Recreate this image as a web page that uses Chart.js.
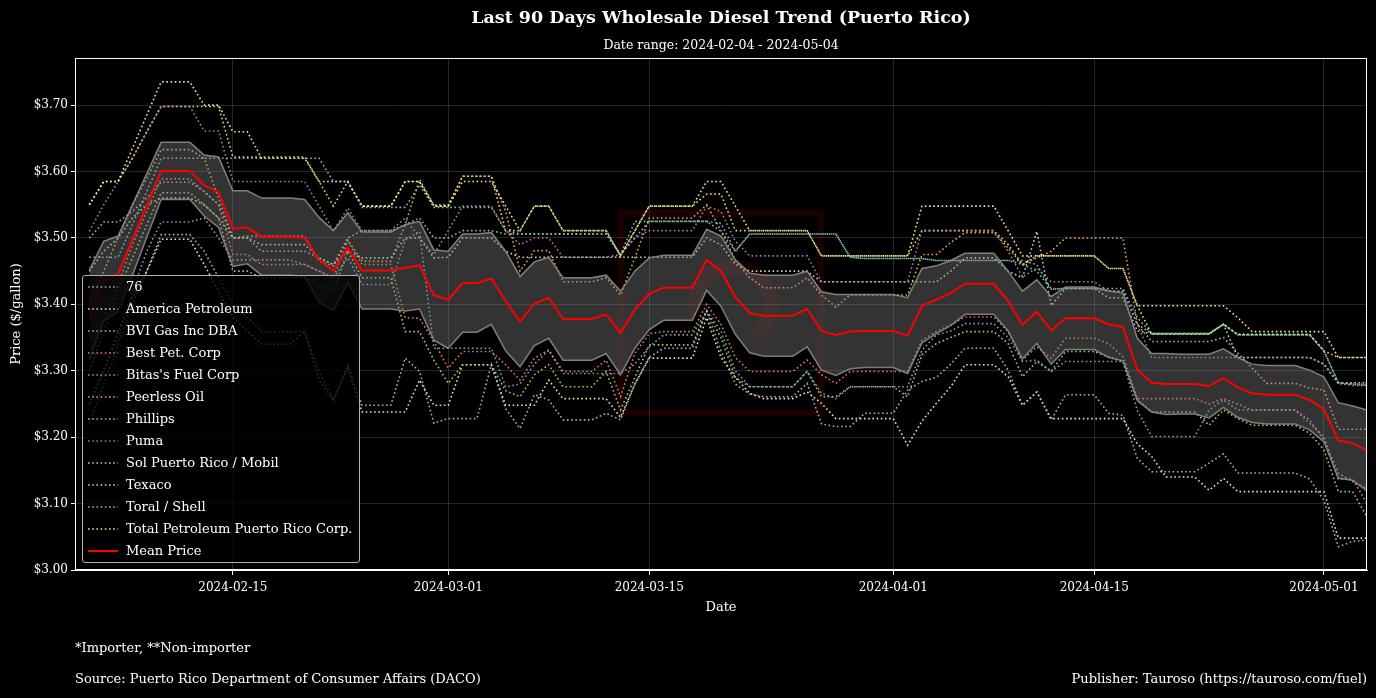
<!DOCTYPE html>
<html>
<head>
<meta charset="utf-8">
<script src="https://cdn.jsdelivr.net/npm/chart.js@4.4.1/dist/chart.umd.min.js"></script>
<style>
  html, body { margin: 0; padding: 0; background: #000; }
  #wrap { position: relative; width: 1376px; height: 698px; font-family: "DejaVu Serif", serif; color: #fff; overflow: hidden; }
  canvas { position: absolute; left: 0; top: 0; }
  .note { position: absolute; font-size: 13px; white-space: nowrap; }
  #legend { position: absolute; left: 82px; top: 275px; width: 278px; height: 288px; box-sizing: border-box;
            background: rgba(0,0,0,0.8); border: 1px solid #b0b0b0; border-radius: 3px; }
  .item { position: absolute; left: 0; height: 22px; font-size: 13px; line-height: 22px; width: 100%; }
  .item svg { position: absolute; left: 5px; top: 10px; }
  .item span { position: absolute; left: 43px; white-space: nowrap; }
</style>
</head>
<body>
<div id="wrap">
  <canvas id="chart" width="1376" height="698"></canvas>
  <div id="legend"></div>
  <div class="note" style="left:75px; top:640px;">*Importer, **Non-importer</div>
  <div class="note" style="left:75px; top:671px;">Source: Puerto Rico Department of Consumer Affairs (DACO)</div>
  <div class="note" style="right:9px; top:671px;">Publisher: Tauroso (https://tauroso.com/fuel)</div>
</div>
<script>
// axis range and labelled dates
const axisStart = '2024-02-04';
const axisEnd = '2024-05-04';
const firstDate = '2024-02-05';
const tickDates = ['2024-02-15', '2024-03-01', '2024-03-15', '2024-04-01', '2024-04-15', '2024-05-01'];
const yTicks = [3.00, 3.10, 3.20, 3.30, 3.40, 3.50, 3.60, 3.70];

const seriesNames = ['76', 'America Petroleum', 'BVI Gas Inc DBA', 'Best Pet. Corp', "Bitas's Fuel Corp",
  'Peerless Oil', 'Phillips', 'Puma', 'Sol Puerto Rico / Mobil', 'Texaco', 'Toral / Shell',
  'Total Petroleum Puerto Rico Corp.'];
const seriesColors = ['#8dd3c7', '#feffb3', '#bfbbd9', '#fa8174', '#81b1d2', '#fdb462', '#b3de69',
  '#bc82bd', '#ccebc4', '#ffed6f', '#8dd3c7', '#feffb3'];

// daily prices, 2024-02-05 .. 2024-05-04
const s76 = [
  3.471, 3.471, 3.471, 3.52, 3.57, 3.62, 3.62, 3.62, 3.62, 3.62,
  3.62, 3.62, 3.62, 3.62, 3.62, 3.62, 3.62, 3.585, 3.585, 3.546,
  3.546, 3.546, 3.546, 3.58, 3.546, 3.546, 3.546, 3.546, 3.546, 3.511,
  3.506, 3.506, 3.506, 3.506, 3.506, 3.506, 3.506, 3.475, 3.525, 3.525,
  3.525, 3.525, 3.525, 3.525, 3.522, 3.48, 3.506, 3.506, 3.506, 3.506,
  3.506, 3.506, 3.506, 3.471, 3.469, 3.469, 3.469, 3.469, 3.469, 3.466,
  3.466, 3.466, 3.466, 3.466, 3.466, 3.466, 3.46, 3.423, 3.424, 3.424,
  3.424, 3.424, 3.424, 3.38, 3.356, 3.356, 3.356, 3.356, 3.356, 3.37,
  3.354, 3.354, 3.354, 3.354, 3.354, 3.354, 3.33, 3.282, 3.28, 3.278];
const sAmerica = [
  3.55, 3.585, 3.585, 3.635, 3.685, 3.735, 3.735, 3.735, 3.70, 3.70,
  3.66, 3.66, 3.62, 3.62, 3.62, 3.62, 3.585, 3.585, 3.585, 3.548,
  3.548, 3.548, 3.585, 3.585, 3.548, 3.548, 3.585, 3.585, 3.585, 3.548,
  3.511, 3.548, 3.548, 3.511, 3.511, 3.511, 3.511, 3.473, 3.511, 3.548,
  3.548, 3.548, 3.548, 3.585, 3.585, 3.548, 3.511, 3.511, 3.511, 3.511,
  3.511, 3.473, 3.473, 3.473, 3.473, 3.473, 3.473, 3.473, 3.548, 3.548,
  3.548, 3.548, 3.548, 3.548, 3.511, 3.473, 3.473, 3.473, 3.473, 3.473,
  3.473, 3.454, 3.454, 3.398, 3.398, 3.398, 3.398, 3.398, 3.398, 3.398,
  3.38, 3.359, 3.359, 3.359, 3.359, 3.359, 3.359, 3.32, 3.32, 3.32];
const sBvi = [
  3.22, 3.28, 3.34, 3.40, 3.45, 3.505, 3.505, 3.505, 3.48, 3.44,
  3.40, 3.38, 3.359, 3.359, 3.359, 3.359, 3.30, 3.256, 3.309, 3.248,
  3.248, 3.248, 3.319, 3.299, 3.221, 3.228, 3.228, 3.228, 3.309, 3.243,
  3.213, 3.264, 3.256, 3.226, 3.226, 3.226, 3.236, 3.226, 3.28, 3.32,
  3.334, 3.334, 3.334, 3.39, 3.33, 3.28, 3.265, 3.261, 3.261, 3.261,
  3.281, 3.22, 3.216, 3.216, 3.236, 3.236, 3.236, 3.271, 3.284, 3.29,
  3.31, 3.334, 3.334, 3.334, 3.301, 3.248, 3.268, 3.226, 3.264, 3.264,
  3.264, 3.236, 3.233, 3.168, 3.148, 3.148, 3.148, 3.148, 3.161, 3.175,
  3.146, 3.146, 3.146, 3.146, 3.146, 3.137, 3.105, 3.035, 3.043, 3.045];
const sBest = [
  3.32, 3.38, 3.43, 3.49, 3.54, 3.589, 3.589, 3.589, 3.57, 3.55,
  3.475, 3.475, 3.46, 3.46, 3.46, 3.46, 3.45, 3.44, 3.495, 3.46,
  3.46, 3.46, 3.38, 3.379, 3.344, 3.304, 3.329, 3.329, 3.329, 3.309,
  3.286, 3.319, 3.331, 3.299, 3.299, 3.299, 3.316, 3.261, 3.326, 3.356,
  3.359, 3.359, 3.359, 3.40, 3.37, 3.32, 3.299, 3.299, 3.299, 3.299,
  3.316, 3.294, 3.281, 3.299, 3.299, 3.299, 3.299, 3.299, 3.346, 3.359,
  3.369, 3.381, 3.381, 3.381, 3.359, 3.316, 3.336, 3.319, 3.349, 3.349,
  3.349, 3.341, 3.321, 3.258, 3.258, 3.258, 3.258, 3.258, 3.25, 3.258,
  3.25, 3.241, 3.241, 3.241, 3.241, 3.221, 3.201, 3.137, 3.137, 3.10];
const sBitas = [
  3.25, 3.30, 3.35, 3.42, 3.48, 3.524, 3.524, 3.524, 3.53, 3.50,
  3.467, 3.467, 3.467, 3.467, 3.467, 3.46, 3.45, 3.44, 3.47, 3.43,
  3.43, 3.43, 3.497, 3.51, 3.334, 3.334, 3.334, 3.334, 3.334, 3.276,
  3.28, 3.31, 3.331, 3.296, 3.296, 3.296, 3.296, 3.296, 3.31, 3.336,
  3.354, 3.354, 3.354, 3.39, 3.36, 3.30, 3.276, 3.276, 3.276, 3.276,
  3.299, 3.266, 3.258, 3.276, 3.276, 3.276, 3.276, 3.276, 3.331, 3.354,
  3.36, 3.371, 3.371, 3.371, 3.35, 3.314, 3.316, 3.299, 3.314, 3.314,
  3.314, 3.314, 3.314, 3.24, 3.201, 3.201, 3.201, 3.201, 3.241, 3.256,
  3.241, 3.241, 3.241, 3.241, 3.241, 3.226, 3.196, 3.146, 3.133, 3.123];
const sPeerless = [
  3.40, 3.45, 3.50, 3.55, 3.59, 3.633, 3.633, 3.633, 3.62, 3.56,
  3.50, 3.503, 3.503, 3.503, 3.503, 3.503, 3.465, 3.458, 3.497, 3.465,
  3.465, 3.465, 3.52, 3.588, 3.55, 3.55, 3.593, 3.593, 3.593, 3.54,
  3.45, 3.481, 3.481, 3.434, 3.434, 3.434, 3.44, 3.414, 3.47, 3.53,
  3.53, 3.53, 3.53, 3.55, 3.511, 3.466, 3.44, 3.425, 3.425, 3.425,
  3.44, 3.414, 3.396, 3.414, 3.414, 3.414, 3.414, 3.414, 3.475, 3.475,
  3.493, 3.508, 3.508, 3.508, 3.485, 3.46, 3.47, 3.48, 3.50, 3.50,
  3.50, 3.50, 3.50, 3.37, 3.344, 3.344, 3.344, 3.344, 3.344, 3.35,
  3.327, 3.304, 3.281, 3.281, 3.281, 3.274, 3.271, 3.212, 3.212, 3.212];
const sPhillips = [
  3.30, 3.36, 3.42, 3.47, 3.52, 3.568, 3.568, 3.568, 3.55, 3.53,
  3.45, 3.45, 3.44, 3.44, 3.44, 3.44, 3.43, 3.42, 3.48, 3.44,
  3.44, 3.44, 3.359, 3.359, 3.316, 3.281, 3.309, 3.309, 3.309, 3.27,
  3.261, 3.294, 3.309, 3.276, 3.276, 3.276, 3.299, 3.241, 3.29, 3.339,
  3.339, 3.339, 3.339, 3.39, 3.35, 3.29, 3.276, 3.276, 3.276, 3.276,
  3.299, 3.261, 3.261, 3.276, 3.276, 3.276, 3.276, 3.261, 3.324, 3.341,
  3.35, 3.359, 3.359, 3.359, 3.341, 3.291, 3.314, 3.299, 3.329, 3.329,
  3.329, 3.321, 3.314, 3.256, 3.238, 3.238, 3.238, 3.238, 3.218, 3.241,
  3.228, 3.218, 3.218, 3.218, 3.218, 3.206, 3.181, 3.118, 3.118, 3.08];
const sPuma = [
  3.51, 3.55, 3.585, 3.62, 3.66, 3.698, 3.698, 3.698, 3.661, 3.661,
  3.585, 3.585, 3.585, 3.585, 3.585, 3.585, 3.548, 3.511, 3.545, 3.511,
  3.511, 3.511, 3.53, 3.50, 3.475, 3.511, 3.548, 3.548, 3.548, 3.511,
  3.49, 3.50, 3.50, 3.471, 3.471, 3.471, 3.471, 3.475, 3.50, 3.511,
  3.511, 3.511, 3.511, 3.548, 3.54, 3.495, 3.473, 3.473, 3.473, 3.473,
  3.473, 3.434, 3.434, 3.434, 3.434, 3.434, 3.434, 3.434, 3.511, 3.511,
  3.511, 3.511, 3.511, 3.511, 3.48, 3.441, 3.455, 3.434, 3.434, 3.434,
  3.434, 3.42, 3.42, 3.37, 3.32, 3.32, 3.32, 3.32, 3.32, 3.32,
  3.32, 3.32, 3.32, 3.32, 3.32, 3.32, 3.31, 3.28, 3.28, 3.28];
const sSol = [
  3.45, 3.48, 3.50, 3.53, 3.55, 3.56, 3.56, 3.56, 3.55, 3.53,
  3.50, 3.50, 3.49, 3.49, 3.49, 3.49, 3.47, 3.46, 3.48, 3.47,
  3.47, 3.47, 3.50, 3.50, 3.47, 3.471, 3.50, 3.50, 3.50, 3.48,
  3.471, 3.471, 3.471, 3.471, 3.471, 3.471, 3.471, 3.471, 3.471, 3.471,
  3.471, 3.471, 3.471, 3.50, 3.49, 3.46, 3.45, 3.45, 3.45, 3.45,
  3.45, 3.434, 3.434, 3.434, 3.434, 3.434, 3.434, 3.434, 3.434, 3.434,
  3.45, 3.47, 3.47, 3.47, 3.45, 3.44, 3.51, 3.398, 3.424, 3.424,
  3.424, 3.41, 3.41, 3.36, 3.356, 3.356, 3.356, 3.356, 3.356, 3.37,
  3.32, 3.32, 3.32, 3.32, 3.32, 3.32, 3.31, 3.282, 3.282, 3.282];
const sTexaco = [
  3.55, 3.585, 3.585, 3.62, 3.66, 3.698, 3.698, 3.698, 3.698, 3.698,
  3.622, 3.622, 3.622, 3.622, 3.622, 3.622, 3.585, 3.548, 3.585, 3.548,
  3.548, 3.548, 3.585, 3.585, 3.548, 3.548, 3.593, 3.593, 3.593, 3.511,
  3.511, 3.548, 3.548, 3.511, 3.511, 3.511, 3.511, 3.473, 3.511, 3.548,
  3.548, 3.548, 3.548, 3.566, 3.566, 3.511, 3.511, 3.511, 3.511, 3.511,
  3.511, 3.473, 3.473, 3.473, 3.473, 3.473, 3.473, 3.473, 3.511, 3.511,
  3.511, 3.511, 3.511, 3.511, 3.49, 3.46, 3.473, 3.473, 3.473, 3.473,
  3.473, 3.454, 3.454, 3.398, 3.355, 3.355, 3.355, 3.355, 3.355, 3.37,
  3.355, 3.355, 3.355, 3.355, 3.355, 3.355, 3.33, 3.32, 3.32, 3.32];
const sToral = [
  3.50, 3.524, 3.524, 3.54, 3.56, 3.584, 3.584, 3.584, 3.57, 3.55,
  3.50, 3.50, 3.48, 3.48, 3.48, 3.48, 3.47, 3.46, 3.50, 3.511,
  3.511, 3.511, 3.52, 3.53, 3.50, 3.50, 3.511, 3.511, 3.511, 3.506,
  3.506, 3.506, 3.506, 3.506, 3.506, 3.506, 3.506, 3.475, 3.50, 3.525,
  3.525, 3.525, 3.525, 3.525, 3.51, 3.48, 3.506, 3.506, 3.506, 3.506,
  3.506, 3.506, 3.506, 3.471, 3.469, 3.469, 3.469, 3.469, 3.469, 3.466,
  3.466, 3.466, 3.466, 3.466, 3.466, 3.46, 3.45, 3.423, 3.424, 3.424,
  3.424, 3.42, 3.42, 3.37, 3.356, 3.356, 3.356, 3.356, 3.356, 3.37,
  3.354, 3.354, 3.354, 3.354, 3.354, 3.354, 3.33, 3.282, 3.278, 3.278];
const sTotal = [
  3.25, 3.30, 3.36, 3.41, 3.45, 3.498, 3.498, 3.498, 3.46, 3.42,
  3.38, 3.36, 3.34, 3.34, 3.34, 3.359, 3.286, 3.256, 3.305, 3.238,
  3.238, 3.238, 3.238, 3.286, 3.248, 3.248, 3.309, 3.309, 3.309, 3.248,
  3.248, 3.248, 3.286, 3.258, 3.258, 3.258, 3.258, 3.23, 3.28, 3.319,
  3.319, 3.319, 3.319, 3.38, 3.32, 3.29, 3.266, 3.258, 3.258, 3.258,
  3.268, 3.251, 3.228, 3.228, 3.228, 3.228, 3.228, 3.188, 3.224, 3.251,
  3.276, 3.309, 3.309, 3.309, 3.291, 3.248, 3.268, 3.228, 3.228, 3.228,
  3.228, 3.228, 3.228, 3.19, 3.171, 3.14, 3.14, 3.14, 3.12, 3.138,
  3.118, 3.118, 3.118, 3.118, 3.118, 3.118, 3.118, 3.048, 3.048, 3.048];

const meanPrice = [
  3.384, 3.435, 3.446, 3.497, 3.549, 3.601, 3.601, 3.601, 3.579, 3.569,
  3.514, 3.516, 3.502, 3.502, 3.502, 3.500, 3.467, 3.451, 3.485, 3.451,
  3.451, 3.451, 3.455, 3.459, 3.414, 3.407, 3.432, 3.432, 3.439, 3.405,
  3.374, 3.401, 3.410, 3.378, 3.378, 3.378, 3.385, 3.357, 3.392, 3.416,
  3.425, 3.425, 3.425, 3.467, 3.450, 3.411, 3.387, 3.383, 3.383, 3.383,
  3.393, 3.360, 3.354, 3.359, 3.360, 3.360, 3.360, 3.353, 3.398, 3.407,
  3.417, 3.431, 3.431, 3.431, 3.405, 3.369, 3.389, 3.361, 3.379, 3.379,
  3.379, 3.370, 3.366, 3.302, 3.282, 3.280, 3.280, 3.280, 3.277, 3.289,
  3.275, 3.266, 3.264, 3.264, 3.264, 3.256, 3.242, 3.195, 3.191, 3.180];
// standard deviation shown as the grey band
const priceStd = [
  0.068, 0.060, 0.057, 0.053, 0.048, 0.043, 0.043, 0.043, 0.046, 0.053,
  0.057, 0.055, 0.058, 0.058, 0.058, 0.058, 0.064, 0.060, 0.053, 0.058,
  0.058, 0.058, 0.065, 0.066, 0.068, 0.073, 0.074, 0.074, 0.069, 0.075,
  0.068, 0.063, 0.061, 0.062, 0.062, 0.062, 0.059, 0.063, 0.058, 0.054,
  0.049, 0.049, 0.049, 0.046, 0.053, 0.056, 0.060, 0.061, 0.061, 0.061,
  0.057, 0.059, 0.061, 0.056, 0.055, 0.055, 0.055, 0.057, 0.056, 0.051,
  0.049, 0.046, 0.046, 0.046, 0.045, 0.051, 0.048, 0.051, 0.047, 0.047,
  0.047, 0.050, 0.051, 0.047, 0.044, 0.046, 0.045, 0.045, 0.048, 0.044,
  0.045, 0.044, 0.044, 0.044, 0.044, 0.045, 0.049, 0.057, 0.056, 0.061];

const seriesValues = [s76, sAmerica, sBvi, sBest, sBitas, sPeerless, sPhillips, sPuma, sSol,
  sTexaco, sToral, sTotal];

const DAY = 86400000;
const dayOf = d => (Date.parse(d) - Date.parse(axisStart)) / DAY;
const dates = [];
for (let i = 0; i < meanPrice.length; i++) {
  dates.push(new Date(Date.parse(firstDate) + i * DAY).toISOString().slice(0, 10));
}
const xs = dates.map(dayOf);
const tickDays = tickDates.map(dayOf);
const pts = arr => arr.map((v, i) => ({ x: xs[i], y: v }));

const FONT = '"DejaVu Serif", serif';

const datasets = seriesNames.map((name, i) => ({
  label: name,
  data: pts(seriesValues[i]),
  borderColor: seriesColors[i] + 'e6',
  borderWidth: 1.6,
  borderDash: [1.6, 2.6],
  pointRadius: 0,
  fill: false,
  order: 3
}));
datasets.push({
  label: 'band upper',
  data: pts(meanPrice.map((m, i) => m + priceStd[i])),
  borderColor: 'rgba(140,140,140,0.9)',
  borderWidth: 1.5,
  backgroundColor: 'rgba(128,128,128,0.4)',
  fill: '+1',
  pointRadius: 0,
  order: 2
});
datasets.push({
  label: 'band lower',
  data: pts(meanPrice.map((m, i) => m - priceStd[i])),
  borderColor: 'rgba(140,140,140,0.9)',
  borderWidth: 1.5,
  fill: false,
  pointRadius: 0,
  order: 2
});
datasets.push({
  label: 'Mean Price',
  data: pts(meanPrice),
  borderColor: '#ff0000',
  borderWidth: 2,
  pointRadius: 0,
  fill: false,
  order: 1
});

// faint logo square behind the lines
const watermark = {
  id: 'watermark',
  beforeDatasetsDraw(chart) {
    const c = chart.ctx;
    c.save();
    c.strokeStyle = 'rgba(255,0,0,0.10)';
    c.lineWidth = 7;
    c.strokeRect(621, 213, 200, 200);
    c.lineWidth = 14;
    c.beginPath();
    c.arc(733, 305, 38, Math.PI * 0.9, Math.PI * 2.3);
    c.stroke();
    c.restore();
  }
};

const frame = {
  id: 'frame',
  afterDatasetsDraw(chart) {
    const a = chart.chartArea;
    const c = chart.ctx;
    c.save();
    c.strokeStyle = '#ffffff';
    c.lineWidth = 1;
    c.strokeRect(a.left + 0.5, a.top + 0.5, a.right - a.left - 1, a.bottom - a.top - 1);
    c.restore();
  }
};

const chart = new Chart(document.getElementById('chart').getContext('2d'), {
  type: 'line',
  data: { datasets },
  plugins: [watermark, frame],
  options: {
    responsive: false,
    animation: false,
    devicePixelRatio: 1,
    layout: { padding: { left: 0, right: 9, top: 0, bottom: 80 } },
    elements: { line: { tension: 0 } },
    plugins: {
      legend: { display: false },
      tooltip: { enabled: false },
      title: {
        display: true,
        fullSize: false,
        text: 'Last 90 Days Wholesale Diesel Trend (Puerto Rico)',
        color: '#ffffff',
        font: { family: FONT, size: 17.5, weight: 'bold' },
        padding: { top: 8, bottom: 9 }
      },
      subtitle: {
        display: true,
        fullSize: false,
        text: 'Date range: ' + axisStart + ' - ' + axisEnd,
        color: '#ffffff',
        font: { family: FONT, size: 12.5 },
        padding: { top: 0, bottom: 5 }
      }
    },
    scales: {
      x: {
        type: 'linear',
        min: 0,
        max: dayOf(axisEnd),
        afterFit: s => { s.height = 48; },
        afterBuildTicks: s => { s.ticks = tickDays.map(v => ({ value: v })); },
        ticks: {
          color: '#ffffff',
          font: { family: FONT, size: 12 },
          padding: 6,
          maxRotation: 0,
          callback: v => tickDates[tickDays.indexOf(v)] || ''
        },
        grid: { color: 'rgba(255,255,255,0.15)', tickColor: '#ffffff', tickLength: 5 },
        border: { color: '#ffffff' },
        title: { display: true, text: 'Date', color: '#ffffff', font: { family: FONT, size: 13 }, padding: { top: 0, bottom: 3 } }
      },
      y: {
        min: 3.0,
        max: 3.771,
        afterFit: s => { s.width = 75; },
        afterBuildTicks: s => { s.ticks = yTicks.map(v => ({ value: v })); },
        ticks: {
          color: '#ffffff',
          font: { family: FONT, size: 12 },
          padding: 3,
          callback: v => '$' + Number(v).toFixed(2)
        },
        grid: { color: 'rgba(255,255,255,0.15)', tickColor: '#ffffff', tickLength: 4 },
        border: { color: '#ffffff' },
        title: { display: true, text: 'Price ($/gallon)', color: '#ffffff', font: { family: FONT, size: 13 }, padding: { top: 9, bottom: 0 } }
      }
    }
  }
});

// legend box in the lower left of the plot
const legendEl = document.getElementById('legend');
const legendItems = seriesNames.map((n, i) => ({ name: n, color: seriesColors[i], dash: true }));
legendItems.push({ name: 'Mean Price', color: '#ff0000', dash: false });
legendItems.forEach((it, i) => {
  const row = document.createElement('div');
  row.className = 'item';
  row.style.top = (i * 22) + 'px';
  const line = it.dash
    ? '<line x1="0" y1="1" x2="30" y2="1" stroke="' + it.color + '" stroke-opacity="0.9" stroke-width="1.6" stroke-dasharray="1.6 2.6"/>'
    : '<line x1="0" y1="1" x2="30" y2="1" stroke="' + it.color + '" stroke-width="2"/>';
  row.innerHTML = '<svg width="32" height="3">' + line + '</svg><span>' + it.name + '</span>';
  legendEl.appendChild(row);
});
</script>
</body>
</html>
